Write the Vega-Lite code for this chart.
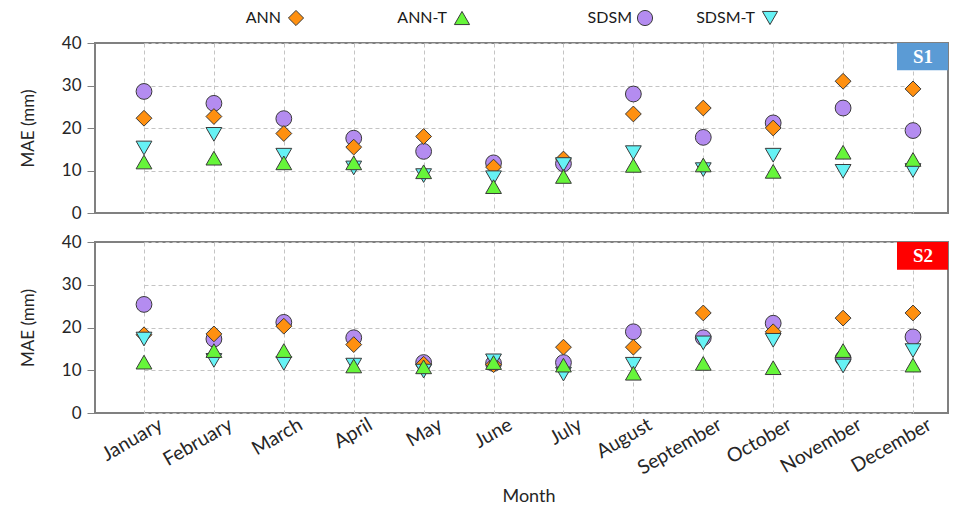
{
  "$schema": "https://vega.github.io/schema/vega-lite/v6.json",
  "background": "white",
  "padding": {"left": 18, "top": 8, "right": 0, "bottom": 0},
  "config": {
    "font": "Lato",
    "view": {"stroke": "#808080", "strokeWidth": 2},
    "axis": {
      "gridColor": "#c4c4c4", "gridDash": [4, 3], "gridWidth": 1,
      "labelFont": "Lato", "labelColor": "#262626",
      "titleFont": "Lato", "titleColor": "#262626", "titleFontWeight": "normal",
      "domain": false
    },
    "axisY": {"labelFontSize": 17, "titleFontSize": 17, "tickSize": 8, "tickColor": "#808080", "labelPadding": 6, "titlePadding": 24, "values": [0, 10, 20, 30, 40]},
    "axisX": {"labelFontSize": 19.5, "titleFontSize": 18, "ticks": false}
  },
  "datasets": {
    "mae": [
      {"panel": "S1", "series": "SDSM", "month": "January", "mae": 28.6},
      {"panel": "S1", "series": "SDSM", "month": "February", "mae": 25.8},
      {"panel": "S1", "series": "SDSM", "month": "March", "mae": 22.2},
      {"panel": "S1", "series": "SDSM", "month": "April", "mae": 17.6},
      {"panel": "S1", "series": "SDSM", "month": "May", "mae": 14.5},
      {"panel": "S1", "series": "SDSM", "month": "June", "mae": 11.8},
      {"panel": "S1", "series": "SDSM", "month": "July", "mae": 11.6},
      {"panel": "S1", "series": "SDSM", "month": "August", "mae": 28.0},
      {"panel": "S1", "series": "SDSM", "month": "September", "mae": 17.8},
      {"panel": "S1", "series": "SDSM", "month": "October", "mae": 21.2},
      {"panel": "S1", "series": "SDSM", "month": "November", "mae": 24.7},
      {"panel": "S1", "series": "SDSM", "month": "December", "mae": 19.4},
      {"panel": "S1", "series": "ANN", "month": "January", "mae": 22.3},
      {"panel": "S1", "series": "ANN", "month": "February", "mae": 22.7},
      {"panel": "S1", "series": "ANN", "month": "March", "mae": 18.7},
      {"panel": "S1", "series": "ANN", "month": "April", "mae": 15.5},
      {"panel": "S1", "series": "ANN", "month": "May", "mae": 18.0},
      {"panel": "S1", "series": "ANN", "month": "June", "mae": 10.8},
      {"panel": "S1", "series": "ANN", "month": "July", "mae": 12.7},
      {"panel": "S1", "series": "ANN", "month": "August", "mae": 23.3},
      {"panel": "S1", "series": "ANN", "month": "September", "mae": 24.7},
      {"panel": "S1", "series": "ANN", "month": "October", "mae": 20.0},
      {"panel": "S1", "series": "ANN", "month": "November", "mae": 31.0},
      {"panel": "S1", "series": "ANN", "month": "December", "mae": 29.2},
      {"panel": "S1", "series": "SDSM-T", "month": "January", "mae": 15.3},
      {"panel": "S1", "series": "SDSM-T", "month": "February", "mae": 18.5},
      {"panel": "S1", "series": "SDSM-T", "month": "March", "mae": 13.6},
      {"panel": "S1", "series": "SDSM-T", "month": "April", "mae": 10.6},
      {"panel": "S1", "series": "SDSM-T", "month": "May", "mae": 8.8},
      {"panel": "S1", "series": "SDSM-T", "month": "June", "mae": 8.3},
      {"panel": "S1", "series": "SDSM-T", "month": "July", "mae": 11.4},
      {"panel": "S1", "series": "SDSM-T", "month": "August", "mae": 14.2},
      {"panel": "S1", "series": "SDSM-T", "month": "September", "mae": 10.2},
      {"panel": "S1", "series": "SDSM-T", "month": "October", "mae": 13.6},
      {"panel": "S1", "series": "SDSM-T", "month": "November", "mae": 9.8},
      {"panel": "S1", "series": "SDSM-T", "month": "December", "mae": 10.0},
      {"panel": "S1", "series": "ANN-T", "month": "January", "mae": 12.0},
      {"panel": "S1", "series": "ANN-T", "month": "February", "mae": 12.9},
      {"panel": "S1", "series": "ANN-T", "month": "March", "mae": 11.8},
      {"panel": "S1", "series": "ANN-T", "month": "April", "mae": 11.8},
      {"panel": "S1", "series": "ANN-T", "month": "May", "mae": 9.7},
      {"panel": "S1", "series": "ANN-T", "month": "June", "mae": 6.2},
      {"panel": "S1", "series": "ANN-T", "month": "July", "mae": 8.6},
      {"panel": "S1", "series": "ANN-T", "month": "August", "mae": 11.2},
      {"panel": "S1", "series": "ANN-T", "month": "September", "mae": 11.3},
      {"panel": "S1", "series": "ANN-T", "month": "October", "mae": 9.8},
      {"panel": "S1", "series": "ANN-T", "month": "November", "mae": 14.3},
      {"panel": "S1", "series": "ANN-T", "month": "December", "mae": 12.6},
      {"panel": "S2", "series": "SDSM", "month": "January", "mae": 25.4},
      {"panel": "S2", "series": "SDSM", "month": "February", "mae": 17.3},
      {"panel": "S2", "series": "SDSM", "month": "March", "mae": 21.2},
      {"panel": "S2", "series": "SDSM", "month": "April", "mae": 17.6},
      {"panel": "S2", "series": "SDSM", "month": "May", "mae": 11.8},
      {"panel": "S2", "series": "SDSM", "month": "June", "mae": 11.6},
      {"panel": "S2", "series": "SDSM", "month": "July", "mae": 11.8},
      {"panel": "S2", "series": "SDSM", "month": "August", "mae": 19.0},
      {"panel": "S2", "series": "SDSM", "month": "September", "mae": 17.6},
      {"panel": "S2", "series": "SDSM", "month": "October", "mae": 21.0},
      {"panel": "S2", "series": "SDSM", "month": "November", "mae": 12.8},
      {"panel": "S2", "series": "SDSM", "month": "December", "mae": 17.8},
      {"panel": "S2", "series": "ANN", "month": "January", "mae": 18.3},
      {"panel": "S2", "series": "ANN", "month": "February", "mae": 18.5},
      {"panel": "S2", "series": "ANN", "month": "March", "mae": 20.3},
      {"panel": "S2", "series": "ANN", "month": "April", "mae": 16.0},
      {"panel": "S2", "series": "ANN", "month": "May", "mae": 11.4},
      {"panel": "S2", "series": "ANN", "month": "June", "mae": 11.3},
      {"panel": "S2", "series": "ANN", "month": "July", "mae": 15.4},
      {"panel": "S2", "series": "ANN", "month": "August", "mae": 15.4},
      {"panel": "S2", "series": "ANN", "month": "September", "mae": 23.4},
      {"panel": "S2", "series": "ANN", "month": "October", "mae": 19.0},
      {"panel": "S2", "series": "ANN", "month": "November", "mae": 22.2},
      {"panel": "S2", "series": "ANN", "month": "December", "mae": 23.4},
      {"panel": "S2", "series": "SDSM-T", "month": "January", "mae": 17.3},
      {"panel": "S2", "series": "SDSM-T", "month": "February", "mae": 12.3},
      {"panel": "S2", "series": "SDSM-T", "month": "March", "mae": 11.6},
      {"panel": "S2", "series": "SDSM-T", "month": "April", "mae": 11.2},
      {"panel": "S2", "series": "SDSM-T", "month": "May", "mae": 9.8},
      {"panel": "S2", "series": "SDSM-T", "month": "June", "mae": 12.2},
      {"panel": "S2", "series": "SDSM-T", "month": "July", "mae": 9.1},
      {"panel": "S2", "series": "SDSM-T", "month": "August", "mae": 11.4},
      {"panel": "S2", "series": "SDSM-T", "month": "September", "mae": 16.4},
      {"panel": "S2", "series": "SDSM-T", "month": "October", "mae": 17.0},
      {"panel": "S2", "series": "SDSM-T", "month": "November", "mae": 11.0},
      {"panel": "S2", "series": "SDSM-T", "month": "December", "mae": 14.6},
      {"panel": "S2", "series": "ANN-T", "month": "January", "mae": 11.9},
      {"panel": "S2", "series": "ANN-T", "month": "February", "mae": 14.6},
      {"panel": "S2", "series": "ANN-T", "month": "March", "mae": 14.6},
      {"panel": "S2", "series": "ANN-T", "month": "April", "mae": 11.0},
      {"panel": "S2", "series": "ANN-T", "month": "May", "mae": 10.8},
      {"panel": "S2", "series": "ANN-T", "month": "June", "mae": 11.8},
      {"panel": "S2", "series": "ANN-T", "month": "July", "mae": 11.2},
      {"panel": "S2", "series": "ANN-T", "month": "August", "mae": 9.3},
      {"panel": "S2", "series": "ANN-T", "month": "September", "mae": 11.6},
      {"panel": "S2", "series": "ANN-T", "month": "October", "mae": 10.6},
      {"panel": "S2", "series": "ANN-T", "month": "November", "mae": 14.6},
      {"panel": "S2", "series": "ANN-T", "month": "December", "mae": 11.2}
    ],
    "legend": [
      {"series": "ANN"}, {"series": "ANN-T"}, {"series": "SDSM"}, {"series": "SDSM-T"}
    ]
  },
  "bounds": "flush",
  "spacing": 15,
  "resolve": {"scale": {"x": "independent", "y": "independent"}},
  "vconcat": [
    {
      "width": 853, "height": 20,
      "view": {"stroke": null},
      "data": {"name": "legend"},
      "encoding": {
        "x": {"field": "series", "type": "nominal", "scale": {"type": "point", "padding": 0, "domain": ["ANN", "ANN-T", "SDSM", "SDSM-T"], "range": [201, 675]}, "axis": null},
        "color": {"field": "series", "type": "nominal", "scale": {"domain": ["ANN", "ANN-T", "SDSM", "SDSM-T"], "range": ["#FF9010", "#66F53A", "#B48CF0", "#66F2F5"]}, "legend": null},
        "shape": {"field": "series", "type": "nominal", "scale": {"domain": ["ANN", "ANN-T", "SDSM", "SDSM-T"], "range": ["diamond", "triangle-up", "circle", "triangle-down"]}, "legend": null}
      },
      "layer": [
        {"transform": [{"filter": "datum.series === 'ANN'"}], "mark": {"type": "text", "align": "right", "baseline": "middle", "xOffset": -15, "fontSize": 16, "font": "Lato", "color": "#1a1a1a"}, "encoding": {"text": {"field": "series"}, "color": {"value": "#1a1a1a"}}},
        {"transform": [{"filter": "datum.series === 'ANN'"}], "mark": {"type": "point", "filled": true, "size": 230, "stroke": "#3a3a3a", "strokeWidth": 1, "opacity": 1}},
        {"transform": [{"filter": "datum.series === 'ANN-T'"}], "mark": {"type": "text", "align": "right", "baseline": "middle", "xOffset": -7, "fontSize": 16, "font": "Lato", "color": "#1a1a1a"}, "encoding": {"text": {"field": "series"}, "color": {"value": "#1a1a1a"}}},
        {"transform": [{"filter": "datum.series === 'ANN-T'"}], "mark": {"type": "point", "filled": true, "size": 230, "stroke": "#3a3a3a", "strokeWidth": 1, "opacity": 1, "xOffset": 8}},
        {"transform": [{"filter": "datum.series === 'SDSM'"}], "mark": {"type": "text", "align": "right", "baseline": "middle", "xOffset": 20, "fontSize": 16, "font": "Lato", "color": "#1a1a1a"}, "encoding": {"text": {"field": "series"}, "color": {"value": "#1a1a1a"}}},
        {"transform": [{"filter": "datum.series === 'SDSM'"}], "mark": {"type": "point", "filled": true, "size": 230, "stroke": "#3a3a3a", "strokeWidth": 1, "opacity": 1, "xOffset": 33}},
        {"transform": [{"filter": "datum.series === 'SDSM-T'"}], "mark": {"type": "text", "align": "right", "baseline": "middle", "xOffset": -15, "fontSize": 16, "font": "Lato", "color": "#1a1a1a"}, "encoding": {"text": {"field": "series"}, "color": {"value": "#1a1a1a"}}},
        {"transform": [{"filter": "datum.series === 'SDSM-T'"}], "mark": {"type": "point", "filled": true, "size": 230, "stroke": "#3a3a3a", "strokeWidth": 1, "opacity": 1}}
      ]
    },
    {
      "bounds": "flush",
      "spacing": 29,
      "vconcat": [
        {
          "width": 853, "height": 170,
          "layer": [
            {
              "data": {"name": "mae"},
              "transform": [{"filter": "datum.panel === 'S1'"}],
              "mark": {"type": "point", "filled": true, "size": 250, "stroke": "#3a3a3a", "strokeWidth": 1, "opacity": 1},
              "encoding": {
                "x": {"field": "month", "type": "ordinal", "sort": null,
                  "scale": {"type": "point", "padding": 0, "domain": ["January", "February", "March", "April", "May", "June", "July", "August", "September", "October", "November", "December"], "range": [49, 818]},
                  "axis": {"labels": false, "ticks": false, "title": null, "grid": true}},
                "y": {"field": "mae", "type": "quantitative", "scale": {"domain": [0, 40]}, "axis": {"title": "MAE (mm)", "grid": true}},
                "color": {"field": "series", "type": "nominal", "legend": null},
                "shape": {"field": "series", "type": "nominal", "legend": null}
              }
            },
            {
              "data": {"values": [{"label": "S1"}]},
              "mark": {"type": "rect", "color": "#5B9BD5", "xOffset": -16, "x2Offset": 35},
              "encoding": {
                "x": {"datum": "December", "type": "ordinal"},
                "x2": {"datum": "December"},
                "y": {"datum": 40, "type": "quantitative"},
                "y2": {"datum": 33.6}
              }
            },
            {
              "data": {"values": [{"label": "S1"}]},
              "mark": {"type": "text", "font": "Liberation Serif", "fontWeight": "bold", "fontSize": 19, "color": "white", "dx": 10, "baseline": "middle", "align": "center"},
              "encoding": {
                "x": {"datum": "December", "type": "ordinal"},
                "y": {"datum": 36.8, "type": "quantitative"},
                "text": {"field": "label"}
              }
            }
          ]
        },
        {
          "width": 853, "height": 171,
          "layer": [
            {
              "data": {"name": "mae"},
              "transform": [{"filter": "datum.panel === 'S2'"}],
              "mark": {"type": "point", "filled": true, "size": 250, "stroke": "#3a3a3a", "strokeWidth": 1, "opacity": 1},
              "encoding": {
                "x": {"field": "month", "type": "ordinal", "sort": null,
                  "scale": {"type": "point", "padding": 0, "domain": ["January", "February", "March", "April", "May", "June", "July", "August", "September", "October", "November", "December"], "range": [49, 818]},
                  "axis": {"title": "Month", "grid": true, "labelAngle": -30, "labelAlign": "right", "labelBaseline": "top", "labelOffset": 12, "labelPadding": 2, "titlePadding": 10}},
                "y": {"field": "mae", "type": "quantitative", "scale": {"domain": [0, 40]}, "axis": {"title": "MAE (mm)", "grid": true}},
                "color": {"field": "series", "type": "nominal", "legend": null},
                "shape": {"field": "series", "type": "nominal", "legend": null}
              }
            },
            {
              "data": {"values": [{"label": "S2"}]},
              "mark": {"type": "rect", "color": "#FF0000", "xOffset": -16, "x2Offset": 35},
              "encoding": {
                "x": {"datum": "December", "type": "ordinal"},
                "x2": {"datum": "December"},
                "y": {"datum": 40, "type": "quantitative"},
                "y2": {"datum": 33.5}
              }
            },
            {
              "data": {"values": [{"label": "S2"}]},
              "mark": {"type": "text", "font": "Liberation Serif", "fontWeight": "bold", "fontSize": 19, "color": "white", "dx": 10, "baseline": "middle", "align": "center"},
              "encoding": {
                "x": {"datum": "December", "type": "ordinal"},
                "y": {"datum": 36.75, "type": "quantitative"},
                "text": {"field": "label"}
              }
            }
          ]
        }
      ]
    }
  ]
}
